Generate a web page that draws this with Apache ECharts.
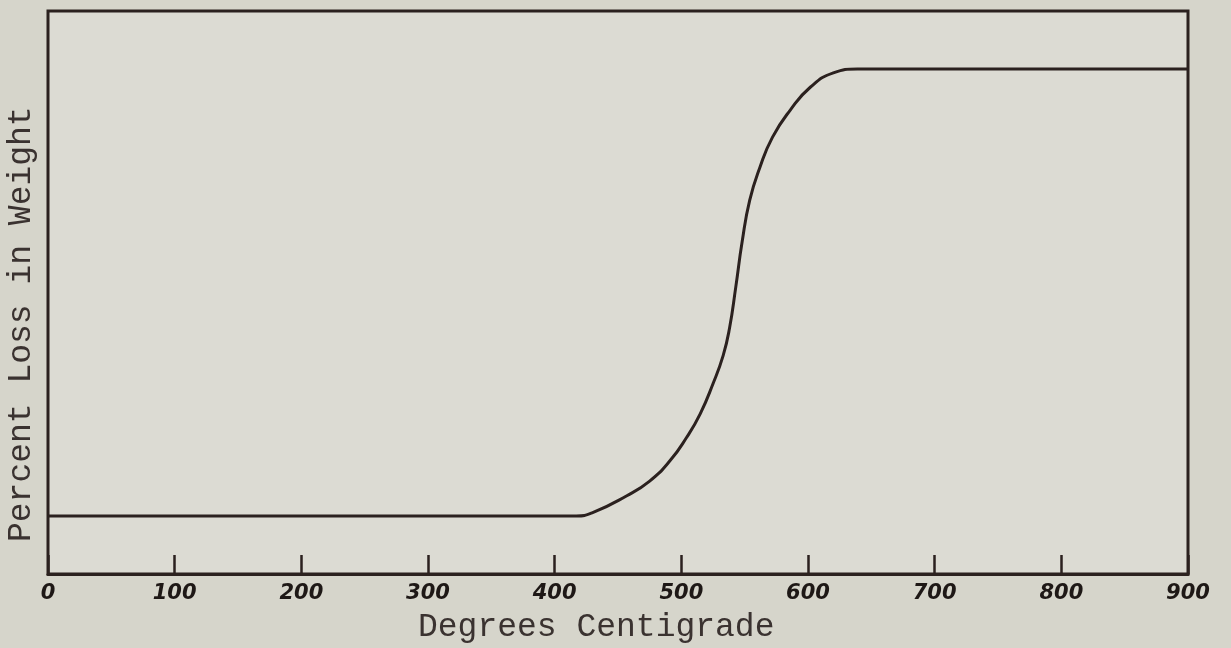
<!DOCTYPE html>
<html>
<head>
<meta charset="utf-8">
<script src="https://cdn.jsdelivr.net/npm/echarts@6/dist/echarts.min.js"></script>
<style>
  html, body { margin: 0; padding: 0; background: #d6d5cb; }
  #container { width: 1231px; height: 648px; }
</style>
</head>
<body>
<div id="container"></div>
<script>
// temperature (deg C) and percent loss in weight
const temps = [0, 100, 200, 300, 400, 417, 430, 457, 475, 491, 504, 515, 525, 533, 538, 543, 548, 554, 562, 572, 586, 602, 620, 639, 673, 800, 900]
const loss = [10.3, 10.3, 10.3, 10.3, 10.3, 10.3, 10.9, 13.9, 16.5, 20.1, 24.2, 28.5, 33.8, 38.8, 43.6, 51.0, 59.0, 66.4, 72.2, 77.6, 82.4, 86.5, 89.0, 89.7, 89.7, 89.7, 89.7]
const xTicks = [0, 100, 200, 300, 400, 500, 600, 700, 800, 900]

const ink = '#2b211f'
const chart = echarts.init(document.getElementById('container'))

const option = {
  backgroundColor: '#d6d5cb',
  animation: false,
  grid: {
    left: 48,
    right: 43,
    top: 11,
    bottom: 74,
    show: true,
    backgroundColor: '#dcdbd3',
    borderColor: ink,
    borderWidth: 3
  },
  xAxis: {
    type: 'value',
    min: 0,
    max: 900,
    interval: 100,
    axisLine: { show: true, lineStyle: { color: ink, width: 3 } },
    axisTick: { show: true, inside: true, length: 19, lineStyle: { color: ink, width: 2.5 } },
    splitLine: { show: false },
    axisLabel: {
      margin: 9,
      color: '#1e1816',
      fontFamily: 'DejaVu Sans',
      fontStyle: 'italic',
      fontWeight: 'bold',
      fontSize: 21,
      formatter: v => (xTicks.indexOf(v) >= 0 ? String(v) : '')
    }
  },
  yAxis: {
    type: 'value',
    min: 0,
    max: 100,
    axisLine: { show: false },
    axisTick: { show: false },
    axisLabel: { show: false },
    splitLine: { show: false }
  },
  graphic: [
    {
      type: 'text',
      left: 418,
      top: 611,
      style: {
        text: 'Degrees Centigrade',
        font: '33px "Liberation Mono"',
        fill: '#3a3230'
      }
    },
    {
      type: 'text',
      x: 5,
      y: 542,
      rotation: Math.PI / 2,
      style: {
        text: 'Percent Loss in Weight',
        font: '33px "Liberation Mono"',
        fill: '#3a3230',
        align: 'left',
        verticalAlign: 'top'
      }
    }
  ],
  series: [
    {
      type: 'line',
      data: temps.map((t, i) => [t, loss[i]]),
      smooth: 0.5,
      symbol: 'none',
      lineStyle: { color: ink, width: 3 }
    }
  ]
}

chart.setOption(option)
</script>
</body>
</html>
